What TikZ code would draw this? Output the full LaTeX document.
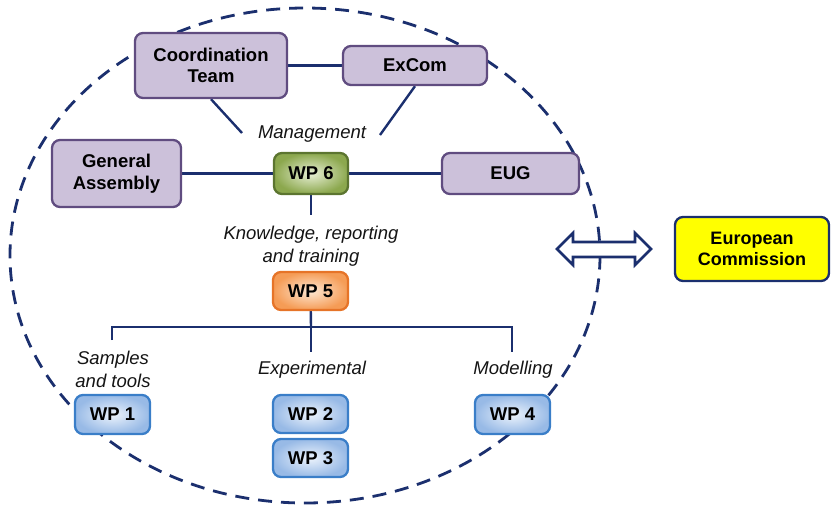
\documentclass[tikz,border=0pt]{standalone}
\usepackage{fontspec}
\setmainfont{Liberation Sans}
\usetikzlibrary{backgrounds}
\begin{document}
\begin{tikzpicture}[x=1pt,y=-1pt,
  navy/.style={draw={rgb,255:red,27;green,47;blue,110}},
  conn/.style={navy,line width=2.4pt},
  boxtxt/.style={font=\fontsize{18.5}{21.5}\selectfont\bfseries,align=center,text=black},
  lbl/.style={font=\fontsize{18.5}{22.5}\selectfont\itshape,align=center,text={rgb,255:red,20;green,20;blue,20},inner sep=0pt},
  base/.style={boxtxt,rounded corners=8pt,line width=2.3pt,inner sep=0pt},
  purp/.style={base,fill={rgb,255:red,204;green,193;blue,218},draw={rgb,255:red,96;green,76;blue,128}},
  bluebox/.style={base,shading=radial,inner color={rgb,255:red,236;green,243;blue,252},outer color={rgb,255:red,152;green,186;blue,230},draw={rgb,255:red,58;green,126;blue,200},minimum width=75pt,minimum height=38pt},
  greenbox/.style={base,shading=radial,inner color={rgb,255:red,232;green,240;blue,214},outer color={rgb,255:red,140;green,168;blue,78},draw={rgb,255:red,92;green,117;blue,48}},
  orangebox/.style={base,shading=radial,inner color={rgb,255:red,253;green,232;blue,212},outer color={rgb,255:red,245;green,156;blue,86},draw={rgb,255:red,230;green,116;blue,40}},
  ecbox/.style={base,fill={rgb,255:red,255;green,255;blue,0},draw={rgb,255:red,27;green,47;blue,110}},
]
\useasboundingbox (0,0) rectangle (831,507);

% boxes
\node[purp,minimum width=152pt,minimum height=65pt] (CT) at (211,65.5) {Coordination\\Team};
\node[purp,minimum width=144pt,minimum height=39pt] (EX) at (415,65.5) {ExCom};
\node[purp,minimum width=129pt,minimum height=67pt] (GA) at (116.5,173.5) {General\\Assembly};
\node[greenbox,minimum width=74pt,minimum height=41pt] (WP6) at (311,173.5) {WP 6};
\node[purp,minimum width=137pt,minimum height=41pt] (EUG) at (510.5,173.5) {EUG};
\node[orangebox,minimum width=75pt,minimum height=38pt] (WP5) at (310.5,291) {WP 5};
\node[bluebox,minimum height=39pt] (WP1) at (112.5,414.5) {WP 1};
\node[bluebox] (WP2) at (310.5,414) {WP 2};
\node[bluebox] (WP3) at (310.5,458) {WP 3};
\node[bluebox,minimum height=39pt] (WP4) at (512.5,414.5) {WP 4};
\node[ecbox,minimum width=154pt,minimum height=64pt,font=\fontsize{18}{21.5}\selectfont\bfseries] (EC) at (752,249) {European\\Commission};

% labels
\node[lbl] (mgmt) at (312,134) {Management};
\node[lbl] (krt) at (311,246) {Knowledge, reporting\\and training};
\node[lbl] (sat) at (113,369.5) {Samples\\and tools};
\node[lbl] (exp) at (312,370) {Experimental};
\node[lbl] (mod) at (513,370) {Modelling};

% coordinates for connector free ends
\coordinate (m1) at (242,133);
\coordinate (m2) at (380,135);
\coordinate (k1) at (311,215);
\coordinate (bus) at (311,327);
\coordinate (b1) at (112,327);
\coordinate (b3) at (512,327);
\coordinate (d1) at (112,340);
\coordinate (d2) at (311,352);
\coordinate (d3) at (512,352);

\begin{scope}[on background layer]
% dashed boundary
\draw[navy,line width=2.8pt,dash pattern=on 14pt off 9pt] (305,255.5) ellipse [x radius=295, y radius=247.5];
% connectors
\draw[conn] (CT) -- (EX);
\draw[conn] (CT.south) -- (m1);
\draw[conn] (EX.south) -- (m2);
\draw[conn] (GA) -- (WP6) -- (EUG);
\draw[conn] (WP6) -- (k1);
\draw[conn] (WP5) -- (bus);
\draw[conn] (d1) -- (b1) -- (b3) -- (d3);
\draw[conn] (bus) -- (d2);
\end{scope}

% double arrow
\draw[navy,line width=2.6pt,fill=white,line join=miter]
  (557,249) -- (573,233) -- (573,242) -- (635,242) -- (635,233) -- (651,249)
  -- (635,265) -- (635,257) -- (573,257) -- (573,265) -- cycle;
\end{tikzpicture}
\end{document}
